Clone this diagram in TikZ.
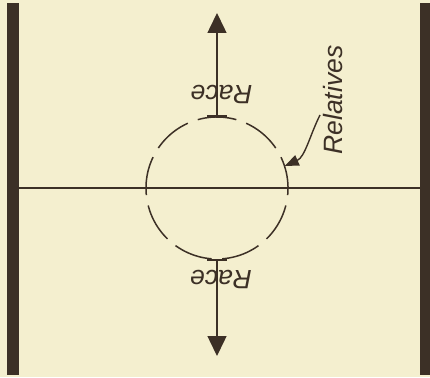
\documentclass[tikz,border=0pt]{standalone}
\usepackage{fontspec}
\setmainfont{Liberation Sans}
\usetikzlibrary{arrows.meta}

\definecolor{paper}{RGB}{244,239,207}
\definecolor{ink}{RGB}{60,48,38}

\begin{document}
\begin{tikzpicture}[x=1pt, y=1pt, >={Triangle[length=20pt,width=19pt]},
    label/.style={font=\fontsize{26.5}{30}\selectfont\itshape, text=ink, inner sep=0pt}]
    \fill[paper] (0,0) rectangle (430,377);
    \useasboundingbox (0,0) rectangle (430,377);

    % the two walls and the middle line
    \fill[ink] (7,2) rectangle (19,374);
    \fill[ink] (420,2) rectangle (430,374);
    \draw[ink, line width=1.8pt] (19,189) -- (420,189);

    \node[circle, minimum size=142pt, inner sep=0pt] (rel) at (217,189) {};
    % dashes laid out clockwise from just left of the top
    \draw[ink, line width=1.5pt, dash pattern=on 39.03pt off 10.53pt]
        (rel.center) ++(105.7:71) arc[start angle=105.7, delta angle=-360, radius=71];

    \coordinate (up) at (217,364);
    \coordinate (down) at (217,21);
    \draw[ink, line width=1.5pt, {Bar[width=20pt]}->] (rel.north) -- (up);
    \draw[ink, line width=1.5pt, {Bar[width=20pt]}->] (rel.south) -- (down);

    \node[label, rotate=180] (raceup) at (221.5,283) {Race};
    \node[label, rotate=180] (racedown) at (221,98) {Race};

    \node[label, rotate=90] (relatives) at (333,277) {Relatives};
    \coordinate (tail) at (320,262);
    \draw[ink, line width=1.4pt, -{Triangle[length=14pt,width=11pt]}]
        (tail) .. controls (310,242) and (305,220) .. (rel.18);
\end{tikzpicture}
\end{document}
